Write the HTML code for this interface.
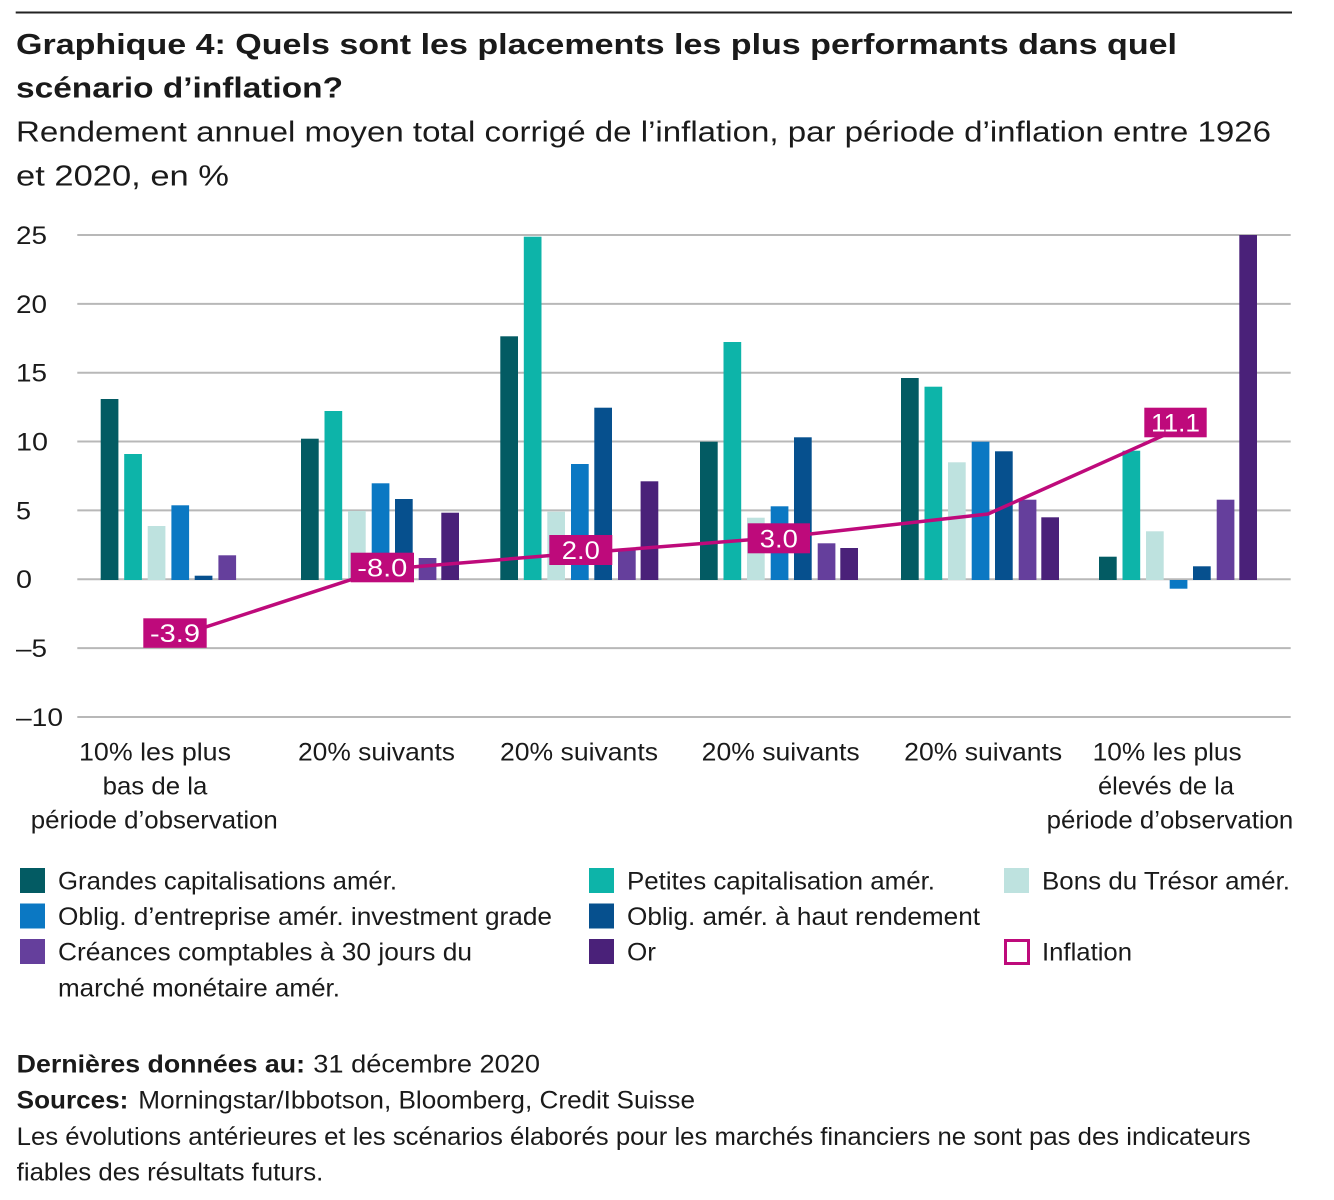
<!DOCTYPE html>
<html>
<head>
<meta charset="utf-8">
<style>
  html,body{margin:0;padding:0;background:#fff;}
  svg{display:block;}
  text{font-family:"Liberation Sans", Arial, sans-serif; fill:#1a1a1a;}
  .b{font-weight:bold;}
</style>
</head>
<body>
<svg width="1334" height="1200" viewBox="0 0 1334 1200" xmlns="http://www.w3.org/2000/svg">
  <rect x="0" y="0" width="1334" height="1200" fill="#fff"/>
  <!-- top rule -->
  <line x1="15.7" y1="12.5" x2="1292" y2="12.5" stroke="#222" stroke-width="2"/>

  <!-- title -->
  <text class="b" x="16" y="54" font-size="28.5" textLength="1161" lengthAdjust="spacingAndGlyphs">Graphique 4: Quels sont les placements les plus performants dans quel</text>
  <text class="b" x="16" y="97.5" font-size="28.5" textLength="327" lengthAdjust="spacingAndGlyphs">scénario d’inflation?</text>
  <text x="16" y="141.5" font-size="29" textLength="1255" lengthAdjust="spacingAndGlyphs">Rendement annuel moyen total corrigé de l’inflation, par période d’inflation entre 1926</text>
  <text x="16" y="185.5" font-size="29" textLength="213" lengthAdjust="spacingAndGlyphs">et 2020, en %</text>

  <!-- gridlines -->
  <g stroke="#b8b8b8" stroke-width="2">
    <line x1="77.3" y1="235" x2="1290.7" y2="235"/>
    <line x1="77.3" y1="303.85" x2="1290.7" y2="303.85"/>
    <line x1="77.3" y1="372.7" x2="1290.7" y2="372.7"/>
    <line x1="77.3" y1="441.55" x2="1290.7" y2="441.55"/>
    <line x1="77.3" y1="510.4" x2="1290.7" y2="510.4"/>
    <line x1="77.3" y1="579.25" x2="1290.7" y2="579.25"/>
    <line x1="77.3" y1="648.1" x2="1290.7" y2="648.1"/>
    <line x1="77.3" y1="716.95" x2="1290.7" y2="716.95"/>
  </g>

  <!-- y labels -->
  <g font-size="25">
    <text x="16" y="244" textLength="31" lengthAdjust="spacingAndGlyphs">25</text>
    <text x="16" y="312.8" textLength="31" lengthAdjust="spacingAndGlyphs">20</text>
    <text x="16" y="381.6" textLength="31" lengthAdjust="spacingAndGlyphs">15</text>
    <text x="16" y="450.4" textLength="32" lengthAdjust="spacingAndGlyphs">10</text>
    <text x="16" y="519.3" textLength="15" lengthAdjust="spacingAndGlyphs">5</text>
    <text x="16" y="588.2" textLength="16" lengthAdjust="spacingAndGlyphs">0</text>
    <text x="16" y="657" textLength="31" lengthAdjust="spacingAndGlyphs">–5</text>
    <text x="16" y="725.8" textLength="47" lengthAdjust="spacingAndGlyphs">–10</text>
  </g>

  <!-- bars -->
  <g>
    <!-- Group 1 -->
    <rect x="100.7" y="399" width="17.7" height="181" fill="#035B63"/>
    <rect x="124.2" y="454" width="17.7" height="126" fill="#0DB4A9"/>
    <rect x="147.7" y="526" width="17.7" height="54" fill="#BEE2DF"/>
    <rect x="171.4" y="505.3" width="17.7" height="74.7" fill="#0B78C3"/>
    <rect x="194.7" y="575.7" width="17.7" height="4.3" fill="#06508E"/>
    <rect x="218.4" y="555.3" width="17.7" height="24.7" fill="#653F9C"/>
    <!-- Group 2 -->
    <rect x="301" y="438.7" width="17.7" height="141.3" fill="#035B63"/>
    <rect x="324.5" y="411" width="17.7" height="169" fill="#0DB4A9"/>
    <rect x="348" y="511" width="17.7" height="69" fill="#BEE2DF"/>
    <rect x="371.7" y="483.3" width="17.7" height="96.7" fill="#0B78C3"/>
    <rect x="395" y="499" width="17.7" height="81" fill="#06508E"/>
    <rect x="418.7" y="558" width="17.7" height="22" fill="#653F9C"/>
    <rect x="441.3" y="512.7" width="17.7" height="67.3" fill="#4A2179"/>
    <!-- Group 3 -->
    <rect x="500.3" y="336.3" width="17.7" height="243.7" fill="#035B63"/>
    <rect x="523.8" y="236.7" width="17.7" height="343.3" fill="#0DB4A9"/>
    <rect x="547.3" y="511.7" width="17.7" height="68.3" fill="#BEE2DF"/>
    <rect x="571" y="464" width="17.7" height="116" fill="#0B78C3"/>
    <rect x="594.3" y="407.7" width="17.7" height="172.3" fill="#06508E"/>
    <rect x="618" y="549" width="17.7" height="31" fill="#653F9C"/>
    <rect x="640.6" y="481.3" width="17.7" height="98.7" fill="#4A2179"/>
    <!-- Group 4 -->
    <rect x="700" y="441.7" width="17.7" height="138.3" fill="#035B63"/>
    <rect x="723.5" y="342" width="17.7" height="238" fill="#0DB4A9"/>
    <rect x="747" y="517.7" width="17.7" height="62.3" fill="#BEE2DF"/>
    <rect x="770.7" y="506.3" width="17.7" height="73.7" fill="#0B78C3"/>
    <rect x="794" y="437.3" width="17.7" height="142.7" fill="#06508E"/>
    <rect x="817.7" y="543.3" width="17.7" height="36.7" fill="#653F9C"/>
    <rect x="840.3" y="548" width="17.7" height="32" fill="#4A2179"/>
    <!-- Group 5 -->
    <rect x="901" y="378" width="17.7" height="202" fill="#035B63"/>
    <rect x="924.5" y="386.7" width="17.7" height="193.3" fill="#0DB4A9"/>
    <rect x="948" y="462.3" width="17.7" height="117.7" fill="#BEE2DF"/>
    <rect x="971.7" y="441.7" width="17.7" height="138.3" fill="#0B78C3"/>
    <rect x="995" y="451.3" width="17.7" height="128.7" fill="#06508E"/>
    <rect x="1018.7" y="499.7" width="17.7" height="80.3" fill="#653F9C"/>
    <rect x="1041.3" y="517.3" width="17.7" height="62.7" fill="#4A2179"/>
    <!-- Group 6 -->
    <rect x="1099" y="556.7" width="17.7" height="23.3" fill="#035B63"/>
    <rect x="1122.5" y="450.7" width="17.7" height="129.3" fill="#0DB4A9"/>
    <rect x="1146" y="531.3" width="17.7" height="48.7" fill="#BEE2DF"/>
    <rect x="1169.7" y="580" width="17.7" height="8.7" fill="#0B78C3"/>
    <rect x="1193" y="566.3" width="17.7" height="13.7" fill="#06508E"/>
    <rect x="1216.7" y="499.7" width="17.7" height="80.3" fill="#653F9C"/>
    <rect x="1239.3" y="235" width="17.7" height="345" fill="#4A2179"/>
  </g>

  <!-- inflation line -->
  <polyline points="175,637 382,569.5 581,553 779,537.5 988,514 1175.5,430" fill="none" stroke="#BE0A7B" stroke-width="3.5" stroke-linejoin="round" stroke-linecap="round"/>

  <!-- inflation labels -->
  <g font-size="25">
    <rect x="143.3" y="618.3" width="63.4" height="29.5" fill="#BE0A7B"/>
    <text x="175" y="642" text-anchor="middle" style="fill:#fff" textLength="50" lengthAdjust="spacingAndGlyphs">-3.9</text>
    <rect x="350.7" y="552.7" width="63.3" height="29.6" fill="#BE0A7B"/>
    <text x="382.3" y="576.4" text-anchor="middle" style="fill:#fff" textLength="50" lengthAdjust="spacingAndGlyphs">-8.0</text>
    <rect x="549.3" y="535" width="63" height="30" fill="#BE0A7B"/>
    <text x="580.8" y="559" text-anchor="middle" style="fill:#fff" textLength="38" lengthAdjust="spacingAndGlyphs">2.0</text>
    <rect x="747.7" y="523.3" width="62.3" height="30" fill="#BE0A7B"/>
    <text x="778.8" y="547.3" text-anchor="middle" style="fill:#fff" textLength="38" lengthAdjust="spacingAndGlyphs">3.0</text>
    <rect x="1144.3" y="407.7" width="62.4" height="29.6" fill="#BE0A7B"/>
    <text x="1175.5" y="431.4" text-anchor="middle" style="fill:#fff" textLength="49" lengthAdjust="spacingAndGlyphs">11.1</text>
  </g>

  <!-- x labels -->
  <g font-size="25">
    <text x="79" y="760.5" textLength="152" lengthAdjust="spacingAndGlyphs">10% les plus</text>
    <text x="102.6" y="794.5" textLength="104.7" lengthAdjust="spacingAndGlyphs">bas de la</text>
    <text x="30.8" y="828.5" textLength="247" lengthAdjust="spacingAndGlyphs">période d’observation</text>
    <text x="298" y="760.5" textLength="157" lengthAdjust="spacingAndGlyphs">20% suivants</text>
    <text x="500" y="760.5" textLength="158" lengthAdjust="spacingAndGlyphs">20% suivants</text>
    <text x="701.7" y="760.5" textLength="158" lengthAdjust="spacingAndGlyphs">20% suivants</text>
    <text x="904.2" y="760.5" textLength="158" lengthAdjust="spacingAndGlyphs">20% suivants</text>
    <text x="1092.7" y="760.5" textLength="149" lengthAdjust="spacingAndGlyphs">10% les plus</text>
    <text x="1098" y="794.5" textLength="136" lengthAdjust="spacingAndGlyphs">élevés de la</text>
    <text x="1046.7" y="828.5" textLength="246.6" lengthAdjust="spacingAndGlyphs">période d’observation</text>
  </g>

  <!-- legend -->
  <g>
    <rect x="20" y="868" width="25" height="25" fill="#035B63"/>
    <rect x="20" y="903.5" width="25" height="25" fill="#0B78C3"/>
    <rect x="20" y="939" width="25" height="25" fill="#653F9C"/>
    <rect x="589" y="868" width="25" height="25" fill="#0DB4A9"/>
    <rect x="589" y="903.5" width="25" height="25" fill="#06508E"/>
    <rect x="589" y="939" width="25" height="25" fill="#4A2179"/>
    <rect x="1004" y="868" width="25" height="25" fill="#BEE2DF"/>
    <rect x="1005.5" y="940.5" width="23" height="23" fill="#fff" stroke="#BE0A7B" stroke-width="3"/>
  </g>
  <g font-size="25">
    <text x="58" y="889.5" textLength="339" lengthAdjust="spacingAndGlyphs">Grandes capitalisations amér.</text>
    <text x="627" y="889.5" textLength="308" lengthAdjust="spacingAndGlyphs">Petites capitalisation amér.</text>
    <text x="1042" y="889.5" textLength="248" lengthAdjust="spacingAndGlyphs">Bons du Trésor amér.</text>
    <text x="58" y="925" textLength="494" lengthAdjust="spacingAndGlyphs">Oblig. d’entreprise amér. investment grade</text>
    <text x="627" y="925" textLength="353" lengthAdjust="spacingAndGlyphs">Oblig. amér. à haut rendement</text>
    <text x="58" y="960.5" textLength="414" lengthAdjust="spacingAndGlyphs">Créances comptables à 30 jours du</text>
    <text x="627" y="960.5" textLength="29" lengthAdjust="spacingAndGlyphs">Or</text>
    <text x="1042" y="960.5" textLength="90" lengthAdjust="spacingAndGlyphs">Inflation</text>
    <text x="58" y="996.5" textLength="282" lengthAdjust="spacingAndGlyphs">marché monétaire amér.</text>
  </g>

  <!-- footer -->
  <g font-size="25">
    <text class="b" x="16.7" y="1072.5" textLength="288.3" lengthAdjust="spacingAndGlyphs">Dernières données au:</text>
    <text x="313.3" y="1072.5" textLength="226.7" lengthAdjust="spacingAndGlyphs">31 décembre 2020</text>
    <text class="b" x="16.7" y="1108.5" textLength="111.6" lengthAdjust="spacingAndGlyphs">Sources:</text>
    <text x="138.3" y="1108.5" textLength="556.7" lengthAdjust="spacingAndGlyphs">Morningstar/Ibbotson, Bloomberg, Credit Suisse</text>
    <text x="16.7" y="1145" textLength="1234" lengthAdjust="spacingAndGlyphs">Les évolutions antérieures et les scénarios élaborés pour les marchés financiers ne sont pas des indicateurs</text>
    <text x="16.7" y="1180.5" textLength="306.6" lengthAdjust="spacingAndGlyphs">fiables des résultats futurs.</text>
  </g>
</svg>
</body>
</html>
